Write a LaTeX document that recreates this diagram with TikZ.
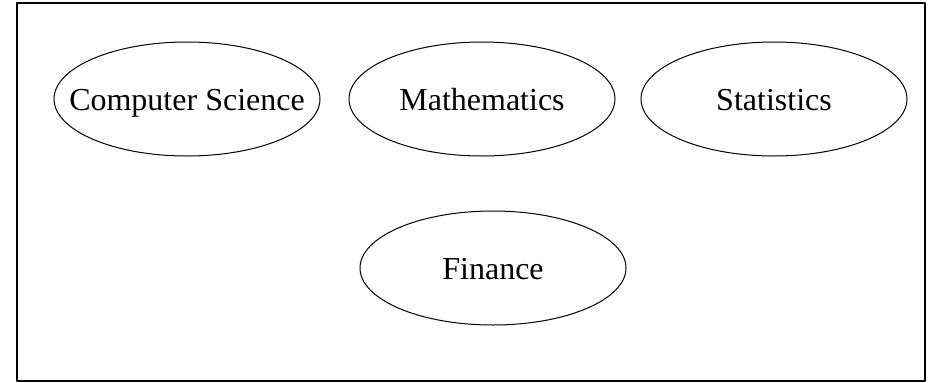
\documentclass[tikz,border=0pt]{standalone}
\usepackage{fontspec}
\setmainfont{Liberation Serif}
\begin{document}
\begin{tikzpicture}[x=1pt,y=-1pt,line cap=round,line join=round,
        subject/.style={font=\fontsize{32}{38}\selectfont,anchor=base,inner sep=0pt}]
        \def\rx{133pt}
        \def\ry{57pt}
        \def\yT{110}
        \def\yF{279}

        \useasboundingbox (0,0) rectangle (930,383);

        % Marco exterior
        \draw[line width=1.2pt] (17,3) rectangle (925,381);

        % Materias de la fila superior
        \node[subject] (cs) at (187,\yT) {Computer Science};
        \node[subject] (math) at (482,\yT) {Mathematics};
        \node[subject] (stat) at (774,\yT) {Statistics};

        % Materia de la fila inferior
        \node[subject] (fin) at (493,\yF) {Finance};

        % Contornos elipticos
        \foreach \n/\cx in {cs/187,math/482,stat/774} {
            \draw[line width=1.0pt] (\cx,99)
                ellipse [x radius=\rx,y radius=\ry];
        }
        \draw[line width=1.0pt] (493,268)
            ellipse [x radius=\rx,y radius=\ry];
\end{tikzpicture}
\end{document}
